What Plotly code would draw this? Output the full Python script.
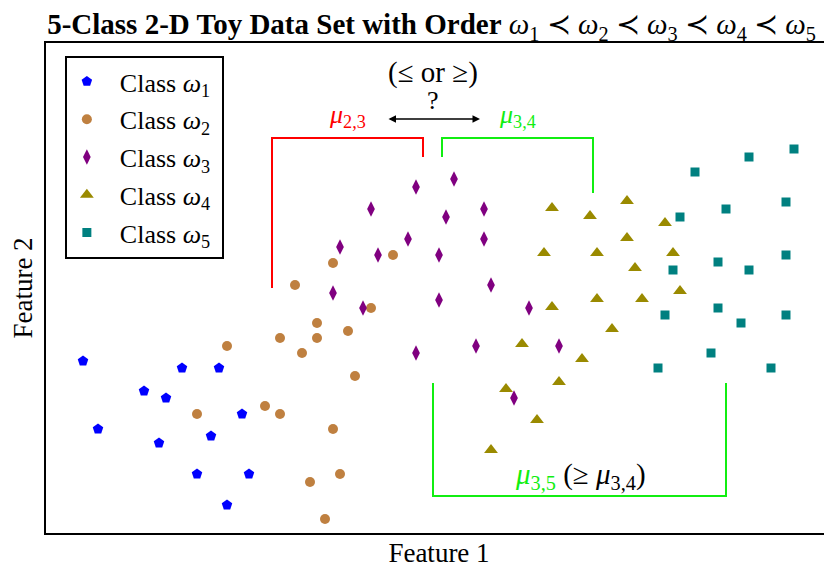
import plotly.graph_objects as go

# Data (x: feature 1, y: feature 2)
c1_x = [37, 136, 173, 98, 120, 52, 196, 113, 165, 151, 203, 181]
c1_y = [172, 165, 165, 142, 135, 104, 119, 90, 97, 59, 59, 28]

c2_x = [287, 347, 249, 325, 271, 234, 271, 302, 181, 256, 309, 219, 234, 151, 287, 294, 264, 279]
c2_y = [270, 278, 248, 225, 210, 195, 195, 202, 187, 180, 157, 127, 119, 119, 104, 59, 51, 14]

c3_x = [370, 408, 325, 400, 438, 362, 438, 294, 332, 393, 445, 287, 393, 317, 483, 370, 430, 513, 468]
c3_y = [346, 354, 324, 316, 324, 294, 294, 286, 278, 278, 248, 240, 233, 225, 225, 180, 187, 187, 135]

c4_x = [506, 544, 581, 619, 498, 551, 581, 627, 589, 506, 551, 596, 634, 566, 476, 536, 513, 460, 491, 445]
c4_y = [325, 317, 332, 310, 280, 280, 295, 280, 265, 226, 234, 234, 242, 204, 189, 174, 151, 144, 113, 83]

c5_x = [748, 703, 649, 740, 680, 634, 740, 672, 703, 627, 672, 619, 695, 740, 665, 612, 725]
c5_y = [384, 376, 361, 331, 324, 316, 278, 271, 263, 263, 225, 218, 210, 218, 180, 165, 165]

class_names = ["Class <i>ω</i><sub>1</sub>", "Class <i>ω</i><sub>2</sub>", "Class <i>ω</i><sub>3</sub>",
               "Class <i>ω</i><sub>4</sub>", "Class <i>ω</i><sub>5</sub>"]

SERIF = "Liberation Serif"
GREEN = "#11EE11"

fig = go.Figure()
styles = [
    (c1_x, c1_y, "pentagon", 11, "#0000FF"),
    (c2_x, c2_y, "circle", 10, "#BF8040"),
    (c3_x, c3_y, "diamond-tall", 11, "#800080"),
    (c4_x, c4_y, "triangle-up", 12, "#9A8A00"),
    (c5_x, c5_y, "square", 9, "#008080"),
]
for i, (xs, ys, sym, sz, col) in enumerate(styles):
    fig.add_trace(go.Scatter(
        x=xs, y=ys, mode="markers", name="&nbsp;&nbsp;" + class_names[i] + "&nbsp;", legendgroup=f"g{i}",
        marker=dict(symbol=sym, size=sz, color=col, line=dict(width=0)),
    ))

# Brackets
fig.add_shape(type="path", path="M 226 245 L 226 395 L 377 395 L 377 376",
              line=dict(color="#FF0000", width=2))
fig.add_shape(type="path", path="M 396 376 L 396 395 L 547 395 L 547 340",
              line=dict(color=GREEN, width=2))
fig.add_shape(type="path", path="M 387 150 L 387 37 L 680 37 L 680 150",
              line=dict(color=GREEN, width=2))

# Arrow (double-headed)
fig.add_annotation(x=434, y=414, ax=341, ay=414, xref="x", yref="y", axref="x", ayref="y",
                   text="", showarrow=True, arrowhead=2, arrowside="end+start",
                   arrowsize=1, arrowwidth=1.5, arrowcolor="black")

fig.add_annotation(x=301, y=417, text="<i>μ</i><sub>2,3</sub>", showarrow=False,
                   font=dict(family=SERIF, size=26, color="#FF0000"))
fig.add_annotation(x=471, y=417, text="<i>μ</i><sub>3,4</sub>", showarrow=False,
                   font=dict(family=SERIF, size=26, color=GREEN))
fig.add_annotation(x=387, y=433, text="?", showarrow=False,
                   font=dict(family=SERIF, size=26, color="black"))
fig.add_annotation(x=387, y=461, text="(≤ or ≥)", showarrow=False,
                   font=dict(family=SERIF, size=29, color="black"))
fig.add_annotation(x=534, y=57,
                   text="<span style='color:" + GREEN + "'><i>μ</i><sub>3,5</sub></span> (≥ <i>μ</i><sub>3,4</sub>)",
                   showarrow=False, font=dict(family=SERIF, size=29, color="black"))

fig.update_layout(
    width=824, height=562,
    margin=dict(l=38, r=0, t=35, b=37),
    paper_bgcolor="white", plot_bgcolor="white",
    font=dict(family=SERIF, size=24, color="black"),
    title=dict(
        text="<b>5-Class 2-D Toy Data Set with Order</b> <i>ω</i><sub>1</sub> ≺ <i>ω</i><sub>2</sub> ≺ "
             "<i>ω</i><sub>3</sub> ≺ <i>ω</i><sub>4</sub> ≺ <i>ω</i><sub>5</sub>",
        x=0.514, xanchor="center", y=0.989, yanchor="top",
        font=dict(family=SERIF, size=29, color="black"),
    ),
    showlegend=True,
    legend=dict(
        x=0.024, y=0.9735, xanchor="left", yanchor="top",
        bgcolor="white", bordercolor="black", borderwidth=2,
        font=dict(family=SERIF, size=26, color="black"),
        tracegroupgap=1,
    ),
    xaxis=dict(range=[0, 786], showgrid=False, zeroline=False, showticklabels=False, ticks="",
               showline=True, linecolor="black", linewidth=2, mirror=True, automargin=False,
               title=dict(text="Feature 1", font=dict(family=SERIF, size=27), standoff=9)),
    yaxis=dict(range=[0, 490], showgrid=False, zeroline=False, showticklabels=False, ticks="",
               showline=True, linecolor="black", linewidth=2, mirror=False, automargin=False,
               title=dict(text="Feature 2", font=dict(family=SERIF, size=27), standoff=4)),
)

fig.write_html("out.html")
